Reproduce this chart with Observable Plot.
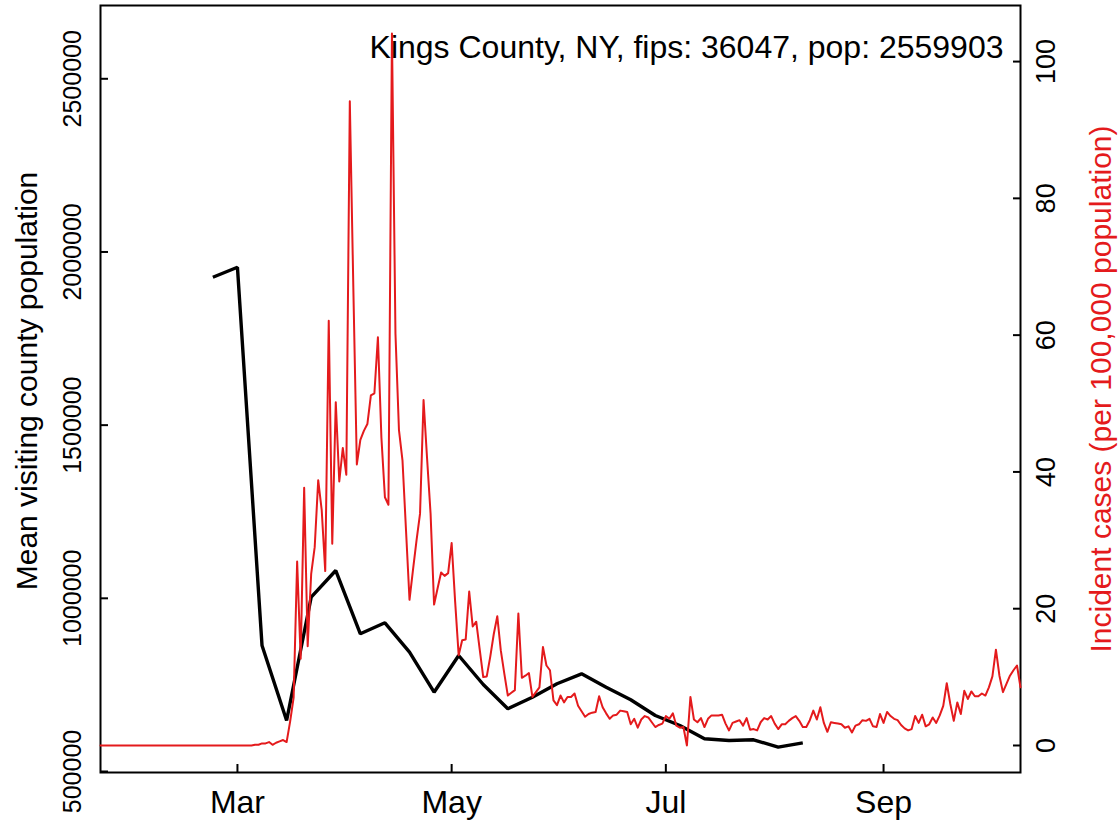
<!DOCTYPE html>
<html>
<head>
<meta charset="utf-8">
<script src="https://cdn.jsdelivr.net/npm/d3@7"></script>
<script src="https://cdn.jsdelivr.net/npm/@observablehq/plot@0.6"></script>
<style>
  html, body { margin: 0; padding: 0; background: #fff; }
  #chart { position: relative; width: 1119px; height: 826px; }
  #chart svg { position: absolute; left: 0; top: 0; }
</style>
</head>
<body>
<div id="chart"></div>
<script>
// ---- data ----
const titleText = "Kings County, NY, fips: 36047, pop: 2559903";
const leftLabel = "Mean visiting county population";
const rightLabel = "Incident cases (per 100,000 population)";

const xTickDates = ["2020-03-01", "2020-05-01", "2020-07-01", "2020-09-01"];
const xTickLabels = ["Mar", "May", "Jul", "Sep"];
const leftTicks = [500000, 1000000, 1500000, 2000000, 2500000];
const rightTicks = [0, 20, 40, 60, 80, 100];

// weekly mean visiting county population
const visitDates = ["2020-02-23","2020-03-01","2020-03-08","2020-03-15","2020-03-22","2020-03-29",
  "2020-04-05","2020-04-12","2020-04-19","2020-04-26","2020-05-03","2020-05-10","2020-05-17",
  "2020-05-24","2020-05-31","2020-06-07","2020-06-14","2020-06-21","2020-06-28","2020-07-05",
  "2020-07-12","2020-07-19","2020-07-26","2020-08-02","2020-08-09"];
const visitValues = [1927000,1955800,863700,647200,1003200,1080250,897500,929300,844400,728900,
  834900,751150,681000,714500,753200,782000,743400,707000,661700,632800,594400,589500,591500,
  570150,582850];

// daily incident cases per 100,000, starting 2020-01-22
const casesStart = "2020-01-22";
const casesValues = [
  0,0,0,0,0,0,0,0,0,0, 0,0,0,0,0,0,0,0,0,0, 0,0,0,0,0,0,0,0,0,0, 0,0,0,0,0,0,0,0,0,0, 0,0,0,0,
  0.1,0.1,0.3,0.3,0.5,0.1,0.4,0.6,0.8,0.5,
  3.5,7,26.9,12.7,37.7,14.5,25.1,29.0,38.8,34.4,
  25.5,62.1,29.5,50.2,38.6,43.5,39.6,94.2,67,41.1,
  44.7,46,47.0,51.2,51.5,59.7,45,36.3,35.2,104.1,
  60.2,46.1,41.7,31.5,21.3,25.7,30.0,33.9,50.5,42,
  33.9,20.6,23,25.3,24.8,25.2,29.6,21,13.2,15.4,
  15.5,22.5,17.4,18.1,14,10.0,10.1,13,16.3,18.9,
  13.9,10.5,7.3,7.7,8.1,19.3,9.9,10.2,10.6,7.1,
  7.8,8.5,14.4,11.7,11.0,6.6,5.9,7.3,6.3,7.1,
  7.1,7.6,5.8,5.0,4.2,4.6,4.8,4.9,7.2,5.6,
  4.7,3.9,4.4,4.5,5.1,5.0,4.9,3.1,3.9,2.6,
  3.8,4.3,4.1,3.4,2.7,3.0,3.2,4.3,3.9,4.7,
  2.9,2.6,2.7,0.0,7.1,3.8,3.4,4.0,2.7,3.9,
  4.4,4.4,4.4,4.5,3.2,2.2,3.3,3.5,3.7,2.9,
  4.0,2.3,2.4,2.2,3.4,4.0,3.8,4.3,3.2,2.4,
  3.1,3.1,3.6,4.0,4.3,3.6,2.7,2.7,3.7,5.1,
  3.8,5.6,3.3,2.0,3.4,3.3,3.2,3.1,2.6,2.8,
  1.9,2.9,3.1,3.7,3.6,3.9,2.8,2.7,4.6,3.3,
  4.9,4.3,3.9,3.7,3.0,2.5,2.2,2.4,4.3,3.3,
  4.5,2.8,3.1,4.1,3.3,4.4,5.8,9.1,6.1,3.6,
  6.3,4.6,8.0,6.8,7.9,7.2,7.2,7.6,7.3,8.5,
  10.1,14.0,10.2,7.8,9.0,10.2,11.0,11.7,8.5
];

// ---- build tables ----
const parse = d3.utcParse("%Y-%m-%d");
const visits = visitDates.map((d, i) => ({date: parse(d), value: visitValues[i]}));
const start = parse(casesStart);
const cases = casesValues.map((v, i) => ({date: d3.utcDay.offset(start, i), value: v}));
const xTicks = xTickDates.map(parse);
const xDomain = [start, cases[cases.length - 1].date];

const W = 1119, H = 826;
const M = {left: 100, right: 99, top: 5, bottom: 54};
const font = "'Liberation Sans', Arial, Helvetica, sans-serif";
const red = "#e41a1c";

const common = {
  width: W, height: H,
  marginLeft: M.left, marginRight: M.right, marginTop: M.top, marginBottom: M.bottom,
  style: {fontFamily: font, background: "transparent", overflow: "visible", color: "black"},
  x: {type: "utc", domain: xDomain, axis: null}
};

// left plot: black line, x axis, left axis
const p1 = Plot.plot({
  ...common,
  y: {domain: [497100, 2711600], axis: null},
  marks: [
    Plot.frame({stroke: "black", strokeWidth: 2}),
    Plot.axisX({ticks: xTicks, tickSize: -8, tickFormat: () => "", label: null, strokeWidth: 2}),
    Plot.text(xTicks, {x: d => d, text: (d, i) => xTickLabels[i], frameAnchor: "bottom",
      dy: 40, lineAnchor: "bottom", fontSize: 32, fill: "black"}),
    Plot.axisY({ticks: leftTicks, tickSize: -8, tickFormat: () => "", label: null, strokeWidth: 2}),
    Plot.text(leftTicks, {y: d => d, text: d => String(d), frameAnchor: "left", dx: -20,
      rotate: -90, textAnchor: "middle", lineAnchor: "bottom", fontSize: 25, fill: "black"}),
    Plot.text([leftLabel], {frameAnchor: "left", dx: -64, dy: -8, rotate: -90, textAnchor: "middle",
      lineAnchor: "bottom", fontSize: 30, fill: "black"}),
    Plot.line(visits, {x: "date", y: "value", stroke: "black", strokeWidth: 3.4,
      strokeLinejoin: "miter", strokeLinecap: "butt"})
  ]
});

// right plot: red line, right axis
const p2 = Plot.plot({
  ...common,
  y: {domain: [-3.95, 108.2], axis: null},
  marks: [
    Plot.axisY({anchor: "right", ticks: rightTicks, tickSize: -8, tickFormat: () => "", label: null, strokeWidth: 2}),
    Plot.text(rightTicks, {y: d => d, text: d => String(d), frameAnchor: "right", dx: 34,
      rotate: -90, textAnchor: "middle", lineAnchor: "bottom", fontSize: 27, fill: "black"}),
    Plot.text([rightLabel], {frameAnchor: "right", dx: 90, rotate: -90, textAnchor: "middle",
      lineAnchor: "bottom", fontSize: 30, fill: red}),
    Plot.line(cases, {x: "date", y: "value", stroke: red, strokeWidth: 2}),
    Plot.text([titleText], {frameAnchor: "top-right", dx: -17, dy: 52, textAnchor: "end",
      lineAnchor: "bottom", fontSize: 32, fill: "black"})
  ]
});

const chart = document.getElementById("chart");
chart.appendChild(p1);
chart.appendChild(p2);
</script>
</body>
</html>
